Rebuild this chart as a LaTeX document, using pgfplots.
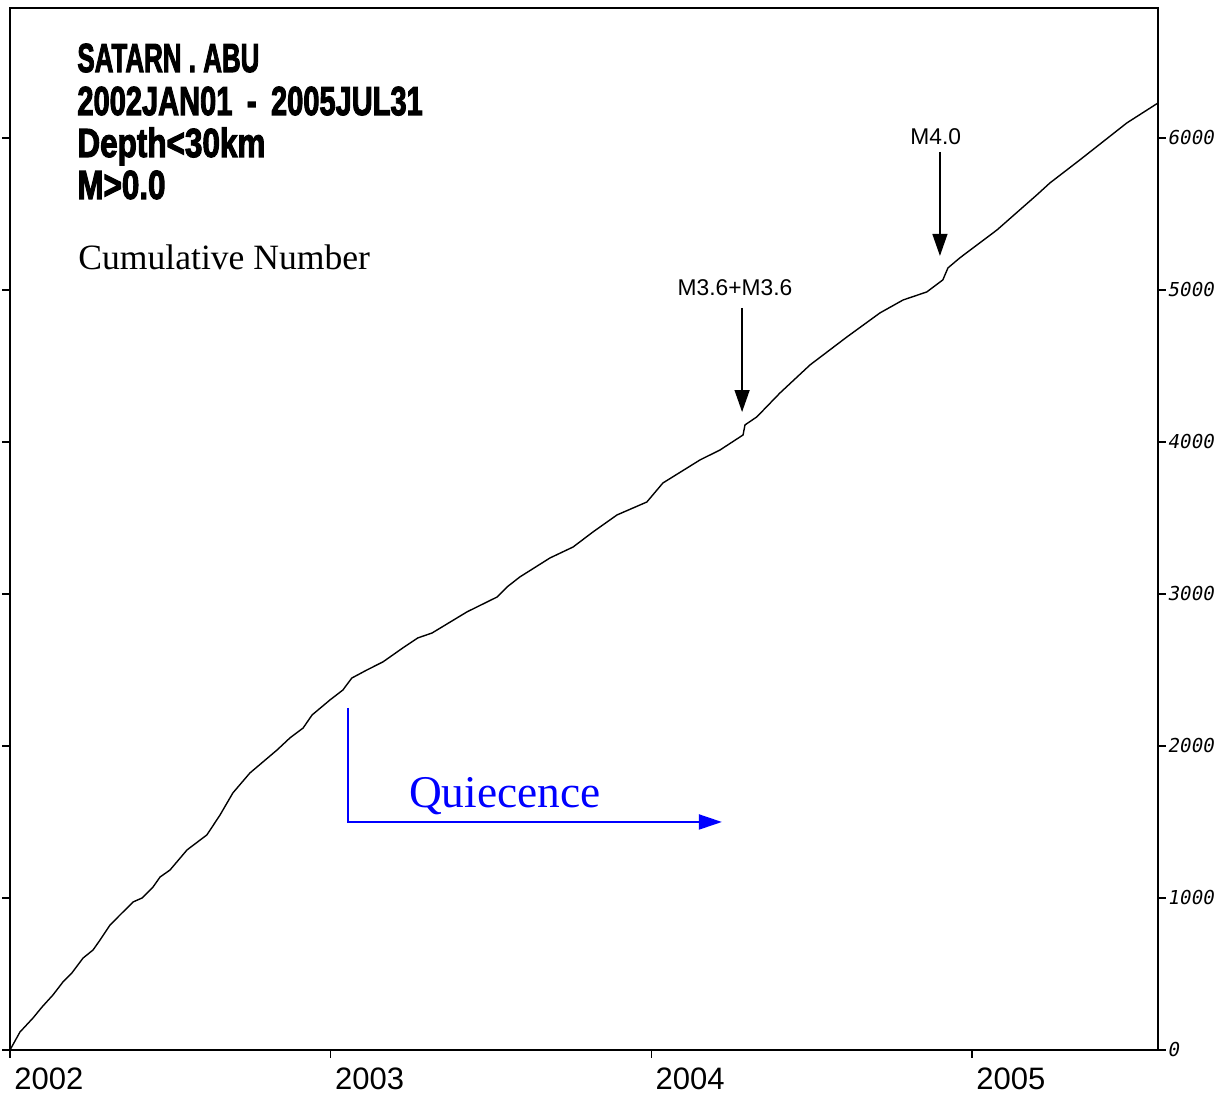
\documentclass[border=0pt]{standalone}
\usepackage{pgfplots}
\pgfplotsset{compat=1.18}
\usetikzlibrary{arrows.meta}
\usepackage{fontspec}
\setmainfont{Liberation Serif}
\newfontfamily\arial{Liberation Sans}
\newfontfamily\heavy[FakeBold=3]{Liberation Sans Bold}
\newfontfamily\monoit[FakeSlant=0.18]{DejaVu Sans Mono}
\definecolor{qblue}{RGB}{0,0,255}
\begin{document}
\begin{tikzpicture}
\begin{axis}[name=ax,
  scale only axis, width=574pt, height=521pt,
  xmin=2002, xmax=2005.58, ymin=0, ymax=6855,
  axis line style={line width=1pt},
  tick pos=both, tick align=outside,
  major tick length=4pt,
  tick style={line width=0.6pt, black},
  xtick={2002,2003,2004,2005},
  xticklabels={2002,2003,2004,2005},
  xtick pos=bottom,
  xticklabel style={font=\arial\fontsize{15.5pt}{17pt}\selectfont, anchor=north west, inner sep=0pt, xshift=2pt, yshift=-4.5pt},
  ytick={0,1000,2000,3000,4000,5000,6000},
  yticklabels={0,1000,2000,3000,4000,5000,6000},
  yticklabel pos=right,
  yticklabel style={font=\monoit\fontsize{9.6pt}{11pt}\selectfont, anchor=west, inner sep=0pt, xshift=0.5pt},
  clip=false,
]
\addplot[black, line width=0.7pt] coordinates {
(2002.000,0) (2002.031,118) (2002.072,211) (2002.100,283) (2002.134,362)
(2002.165,447) (2002.193,507) (2002.228,605) (2002.259,658) (2002.281,724)
(2002.312,822) (2002.343,888) (2002.384,974) (2002.412,1000) (2002.446,1072)
(2002.468,1138) (2002.499,1184) (2002.552,1316) (2002.614,1415) (2002.655,1546)
(2002.695,1691) (2002.748,1822) (2002.833,1974) (2002.873,2053) (2002.914,2118)
(2002.942,2204) (2002.998,2303) (2003.038,2368) (2003.066,2447) (2003.113,2500)
(2003.163,2553) (2003.225,2645) (2003.272,2711) (2003.316,2743) (2003.425,2882)
(2003.519,2980) (2003.550,3046) (2003.590,3112) (2003.684,3237) (2003.756,3309)
(2003.818,3408) (2003.893,3520) (2003.986,3605) (2004.036,3730) (2004.152,3882)
(2004.214,3947) (2004.286,4046) (2004.292,4112) (2004.329,4165) (2004.401,4322)
(2004.495,4507) (2004.610,4691) (2004.713,4849) (2004.785,4934) (2004.859,4987)
(2004.909,5066) (2004.925,5145) (2004.962,5211) (2005.078,5395) (2005.202,5625)
(2005.243,5704) (2005.336,5855) (2005.483,6099) (2005.580,6230)
};
% title block
\node[anchor=base west, inner sep=0pt] at (axis cs:2002.209,6434) {\heavy\fontsize{20.25pt}{22pt}\selectfont\scalebox{0.64}[1]{SATARN\hspace{0.28em}.\hspace{0.28em}ABU}};
\node[anchor=base west, inner sep=0pt] at (axis cs:2002.209,6151) {\heavy\fontsize{20.25pt}{22pt}\selectfont\scalebox{0.717}[1]{2002JAN01\hspace{0.5em}-\hspace{0.5em}2005JUL31}};
\node[anchor=base west, inner sep=0pt] at (axis cs:2002.209,5875) {\heavy\fontsize{20.25pt}{22pt}\selectfont\scalebox{0.777}[1]{Depth<30km}};
\node[anchor=base west, inner sep=0pt] at (axis cs:2002.209,5599) {\heavy\fontsize{20.25pt}{22pt}\selectfont\scalebox{0.775}[1]{M>0.0}};
\node[anchor=base west, inner sep=0pt] at (axis cs:2002.212,5132) {\fontsize{17.8pt}{20pt}\selectfont Cumulative Number};
% event arrows
\node[anchor=center, inner sep=0pt] at (axis cs:2004.261,5013) {\arial\fontsize{11.4pt}{13pt}\selectfont M3.6+M3.6};
\draw[line width=0.7pt, -{Triangle[width=7.5pt,length=11pt]}] (axis cs:2004.283,4882) -- (axis cs:2004.283,4197);
\node[anchor=center, inner sep=0pt] at (axis cs:2004.887,6007) {\arial\fontsize{11.4pt}{13pt}\selectfont M4.0};
\draw[line width=0.7pt, -{Triangle[width=7.5pt,length=11pt]}] (axis cs:2004.900,5908) -- (axis cs:2004.900,5224);
% quiescence
\draw[qblue, line width=1pt, -{Triangle[width=7.5pt,length=11.5pt]}] (axis cs:2003.054,2250) -- (axis cs:2003.054,1500) -- (axis cs:2004.220,1500);
\node[anchor=base, inner sep=0pt, text=qblue] at (axis cs:2003.543,1592) {\fontsize{22.7pt}{25pt}\selectfont Quiecence};
\end{axis}
\pgfresetboundingbox
\path[use as bounding box] ([xshift=-5pt,yshift=-22.5pt]ax.south west) rectangle ([xshift=35pt,yshift=4pt]ax.north east);
\end{tikzpicture}
\end{document}
